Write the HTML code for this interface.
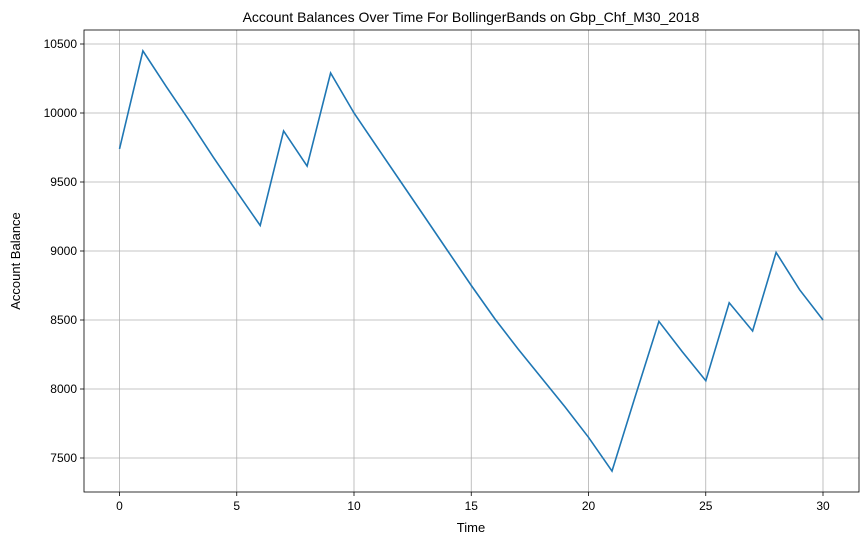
<!DOCTYPE html>
<html><head><meta charset="utf-8"><style>
body{margin:0;background:#fff;}
svg text{font-family:"Liberation Sans","DejaVu Sans",sans-serif;fill:#000;}
</style></head><body>
<svg id="chart" width="868" height="545" xmlns="http://www.w3.org/2000/svg">
<rect width="868" height="545" fill="#fff"/>
<text x="471" y="22" font-size="14" text-anchor="middle">Account Balances Over Time For BollingerBands on Gbp_Chf_M30_2018</text>
<g id="grid"></g>
<g id="ticks"></g>
<path id="line" fill="none" stroke="#1f77b4" stroke-width="1.6"/>
<rect x="84" y="30" width="775" height="462" fill="none" stroke="#000" stroke-width="0.8"/>
<text x="471" y="532" font-size="13" text-anchor="middle">Time</text>
<text transform="translate(20,261) rotate(-90)" font-size="13" text-anchor="middle">Account Balance</text>
</svg>
<script>
const balances=[9740,10450,10190,9940,9680,9430,9185,9870,9615,10290,10000,9750,9500,9250,9000,8750,8510,8290,8080,7870,7650,7405,7950,8490,8270,8060,8625,8420,8990,8720,8500];
const xTicks=[0,5,10,15,20,25,30];
const yTicks=[7500,8000,8500,9000,9500,10000,10500];
const L=84,R=859,T=30,B=492;
const xs=v=>119.5+(v-0)*(823-119.5)/30;
const ys=v=>458-(v-7500)*(458-44)/3000;
const ns="http://www.w3.org/2000/svg";
const grid=document.getElementById('grid'),ticks=document.getElementById('ticks');
function mk(tag,attrs,parent){const e=document.createElementNS(ns,tag);for(const k in attrs)e.setAttribute(k,attrs[k]);parent.appendChild(e);return e;}
xTicks.forEach(t=>{const x=xs(t);
const g=mk('line',{x1:x,x2:x,y1:T,y2:B,stroke:'#b0b0b0','stroke-width':0.8},grid);

const tk=mk('line',{x1:x,x2:x,y1:B,y2:B+4,stroke:'#000','stroke-width':0.8},ticks);

const tx=mk('text',{x:x,y:B+18,'font-size':12,'text-anchor':'middle'},ticks);tx.textContent=t;
});
yTicks.forEach(t=>{const y=ys(t);
const g=mk('line',{x1:L,x2:R,y1:y,y2:y,stroke:'#b0b0b0','stroke-width':0.8},grid);

const tk=mk('line',{x1:L-4,x2:L,y1:y,y2:y,stroke:'#000','stroke-width':0.8},ticks);

const tx=mk('text',{x:L-7,y:y+4,'font-size':12,'text-anchor':'end'},ticks);tx.textContent=t;
});
document.getElementById('line').setAttribute('d',balances.map((v,i)=>(i?'L':'M')+xs(i).toFixed(1)+','+ys(v).toFixed(1)).join(''));
</script>
</body></html>
